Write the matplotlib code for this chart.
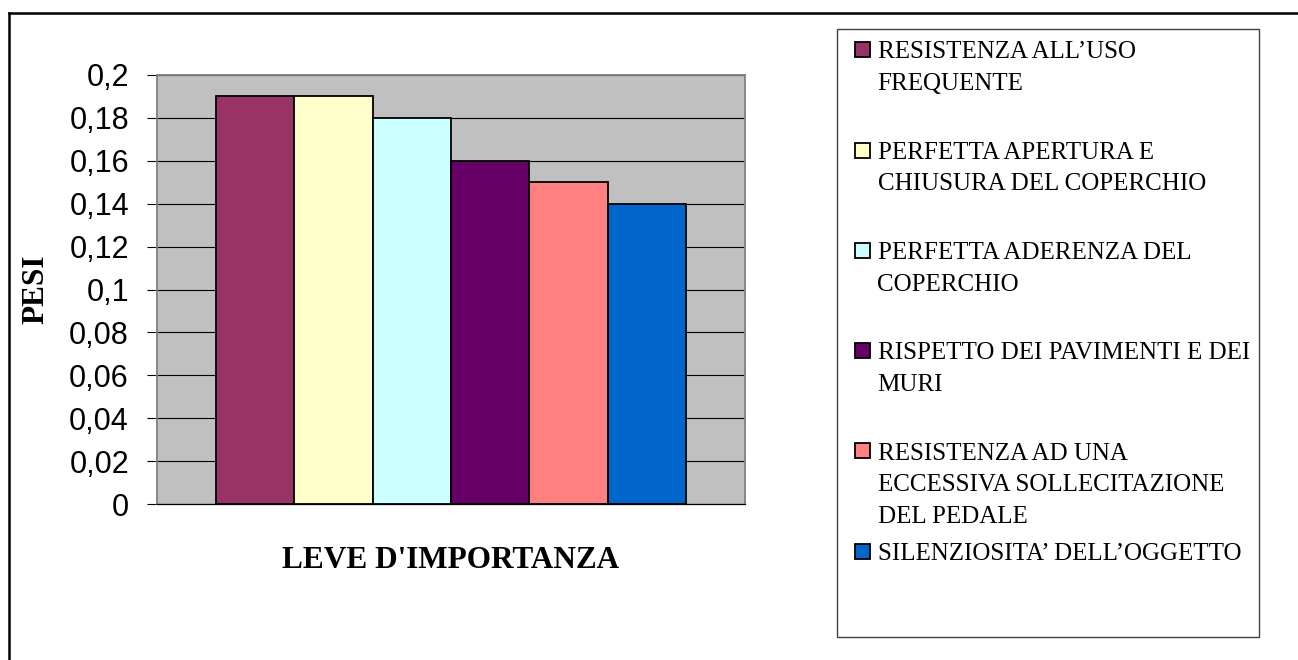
import numpy as np
import matplotlib
matplotlib.use("Agg")
import matplotlib.pyplot as plt
from matplotlib.patches import Rectangle
from matplotlib.lines import Line2D
from matplotlib.ticker import FuncFormatter, MultipleLocator

# ---- data -------------------------------------------------------------
series_labels = [
    "RESISTENZA ALL\u2019USO\nFREQUENTE",
    "PERFETTA APERTURA E\nCHIUSURA DEL COPERCHIO",
    "PERFETTA ADERENZA DEL\nCOPERCHIO",
    "RISPETTO DEI PAVIMENTI E DEI\nMURI",
    "RESISTENZA AD UNA\nECCESSIVA SOLLECITAZIONE\nDEL PEDALE",
    "SILENZIOSITA\u2019 DELL\u2019OGGETTO",
]
weights = [0.19, 0.19, 0.18, 0.16, 0.15, 0.14]
bar_colors = ["#993366", "#FFFFCC", "#CCFFFF", "#660066", "#FF8080", "#0066CC"]

y_title = "PESI"
x_title = "LEVE D'IMPORTANZA"

# ---- figure -----------------------------------------------------------
W, H = 1298, 660
fig = plt.figure(figsize=(W / 100, H / 100), dpi=100)
fig.patch.set_facecolor("white")

# plot area (pixel box: x 157..745, y 75..504)
px_l, px_r, px_t, px_b = 157, 745, 75, 504
ax = fig.add_axes([px_l / W, (H - px_b) / H, (px_r - px_l) / W, (px_b - px_t) / H])
ax.set_facecolor("#C0C0C0")

pos = np.arange(len(weights))
ax.bar(pos, weights, width=1.0, color=bar_colors, edgecolor="black",
       linewidth=1.3, zorder=3)

ax.set_xlim(-1.25, len(weights) + 0.25)
ax.set_ylim(0, 0.2)
ax.yaxis.set_major_locator(MultipleLocator(0.02))


def comma_fmt(v, _):
    if abs(v) < 1e-12:
        return "0"
    return f"{v:.2f}".rstrip("0").rstrip(".").replace(".", ",")


ax.yaxis.set_major_formatter(FuncFormatter(comma_fmt))
ax.set_xticks([])
ax.grid(axis="y", color="black", linewidth=0.8, zorder=1)
ax.set_axisbelow(True)

ax.tick_params(axis="y", direction="out", length=7.2, width=0.8,
               color="black", pad=13, labelsize=22)
for lab in ax.get_yticklabels():
    lab.set_fontfamily("Liberation Sans")

for side in ("top", "right", "left"):
    ax.spines[side].set_color("#808080")
    ax.spines[side].set_linewidth(1.3)
ax.spines["bottom"].set_color("black")
ax.spines["bottom"].set_linewidth(0.9)

ax.set_ylabel(y_title, fontfamily="Liberation Serif", fontweight="bold",
              fontsize=22.5, va="center")
ax.yaxis.set_label_coords((36 - px_l) / (px_r - px_l), 0.5)
ax.set_xlabel(x_title, fontfamily="Liberation Serif", fontweight="bold",
              fontsize=22.5, va="baseline")
ax.xaxis.set_label_coords(0.5, (px_b - 568) / (px_b - px_t))

# ---- overlay in pixel coordinates for frame and legend -----------------
lay = fig.add_axes([0, 0, 1, 1])
lay.set_xlim(0, W)
lay.set_ylim(H, 0)
lay.axis("off")
lay.patch.set_visible(False)

# outer chart frame (top and left edges)
lay.add_line(Line2D([8.5, W + 5], [13, 13], color="black", linewidth=1.8))
lay.add_line(Line2D([8.5, 8.5], [13, H + 5], color="black", linewidth=1.8))

# legend box
lay.add_patch(Rectangle((837, 29), 1259 - 837, 637 - 29, facecolor="white",
                        edgecolor="#404040", linewidth=1.0))

first_baseline = 58.5
item_step = 100.3
line_step = 31.6
for i, (label, col) in enumerate(zip(series_labels, bar_colors)):
    base = first_baseline + i * item_step
    lay.add_patch(Rectangle((855, base - 16.3), 15, 15, facecolor=col,
                            edgecolor="black", linewidth=1.3))
    for j, line in enumerate(label.split("\n")):
        lay.text(877.5, base + j * line_step, line, fontfamily="Liberation Serif",
                 fontsize=18, ha="left", va="baseline", color="black")

fig.savefig("out.png", dpi=100)
